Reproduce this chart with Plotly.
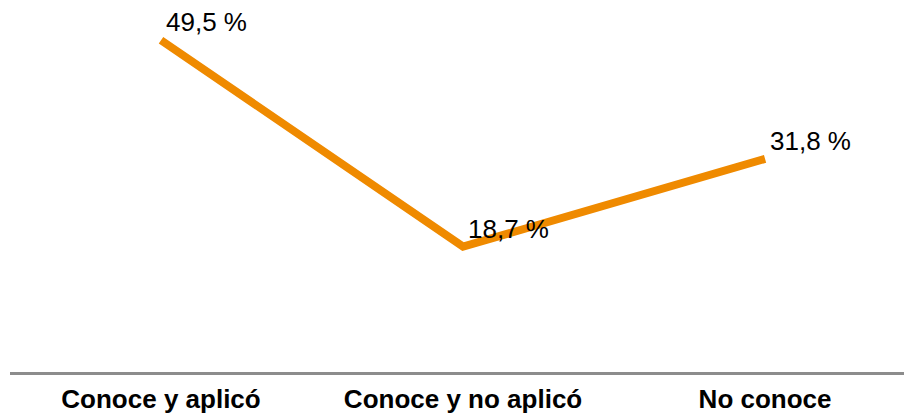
import plotly.graph_objects as go

categories = ["Conoce y aplicó", "Conoce y no aplicó", "No conoce"]
values = [49.5, 18.7, 31.8]
value_labels = ["49,5 %", "18,7 %", "31,8 %"]

positions = list(range(len(categories)))

fig = go.Figure()
fig.add_trace(go.Scatter(
    x=positions,
    y=values,
    mode="lines",
    line=dict(color="#EF8A00", width=8),
    hoverinfo="skip",
    showlegend=False,
))

for xi, yi, label in zip(positions, values, value_labels):
    fig.add_annotation(
        x=xi, y=yi, text=label,
        xanchor="left", yanchor="middle",
        xshift=3, yshift=18,
        showarrow=False,
        font=dict(family="Liberation Sans, Arial, sans-serif", size=26, color="#000000"),
    )

fig.update_xaxes(
    range=[-0.5, 2.46],
    tickmode="array",
    tickvals=positions,
    ticktext=categories,
    tickfont=dict(family="Liberation Sans, Arial, sans-serif", size=26, color="#000000", weight="bold"),
    showgrid=False,
    zeroline=False,
    showline=True,
    linecolor="#8C8C8C",
    linewidth=3,
    ticks="",
    ticklabelstandoff=2,
)
fig.update_yaxes(
    range=[0, 55.5],
    visible=False,
    showgrid=False,
    zeroline=False,
)

fig.update_layout(
    width=904,
    height=414,
    margin=dict(l=10, r=0, t=0, b=42),
    paper_bgcolor="#FFFFFF",
    plot_bgcolor="#FFFFFF",
)

fig.write_html("out.html")
